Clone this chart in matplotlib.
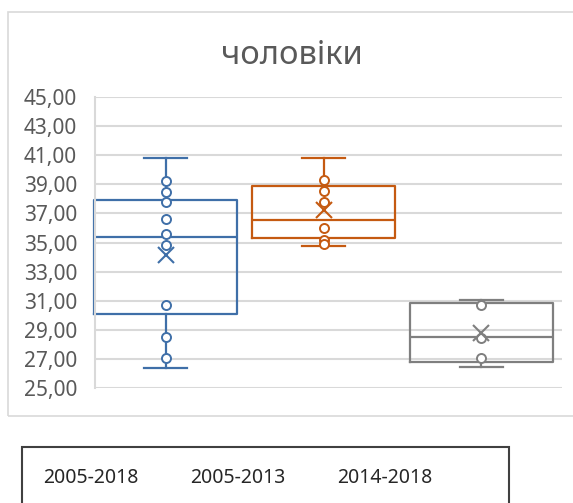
import matplotlib
matplotlib.use('Agg')
import matplotlib.pyplot as plt
from matplotlib.patches import Rectangle

plt.rcParams['font.family'] = ['Noto Sans', 'DejaVu Sans']

title = 'чоловіки'
series = ['2005-2018', '2005-2013', '2014-2018']
colors = ['#3F6FA8', '#C55A11', '#7F7F7F']

# summary values
whis_low = [26.4, 34.75, 26.43]
q1 = [30.12, 35.32, 26.81]
median = [35.37, 36.57, 28.5]
q3 = [37.94, 38.88, 30.84]
whis_high = [40.8, 40.8, 31.07]
means = [34.17, 37.2, 28.77]

# inner points shown as circles
points = [
    [39.2, 38.5, 37.8, 36.6, 35.6, 34.8, 30.7, 28.5, 27.05],
    [39.28, 38.54, 37.78, 36.03, 35.2, 34.9],
    [30.72, 28.43, 27.05],
]

yticks = list(range(25, 46, 2))

fig = plt.figure(figsize=(5.73, 5.03), dpi=100)
# outer chart border and legend box
fig.patches.append(Rectangle((8 / 573, 1 - 416 / 503), 1.0, (416 - 12) / 503,
                             transform=fig.transFigure, fill=False,
                             edgecolor='#d9d9d9', lw=1.2))
fig.patches.append(Rectangle((22 / 573, -0.05), (509 - 22) / 573, 0.05 + 1 - 447 / 503,
                             transform=fig.transFigure, fill=False,
                             edgecolor='#404040', lw=1.5))

ax = fig.add_axes([95 / 573, 1 - 388 / 503, (562 - 95) / 573, (388 - 97) / 503])

positions = [1, 2, 3]
for i in range(3):
    c = colors[i]
    st = dict(whislo=whis_low[i], q1=q1[i], med=median[i], q3=q3[i],
              whishi=whis_high[i], mean=means[i], fliers=[])
    bp = ax.bxp([st], positions=[positions[i]], widths=0.905, showmeans=False,
                showfliers=False, manage_ticks=False,
                boxprops=dict(color=c, lw=1.6),
                medianprops=dict(color=c, lw=1.6),
                whiskerprops=dict(color=c, lw=1.6),
                capprops=dict(color=c, lw=1.6), capwidths=0.27)
    for k in bp:
        for art in bp[k]:
            art.set_clip_on(False)
    ax.plot([positions[i]] * len(points[i]), points[i], 'o', ms=6.5,
            mfc='white', mec=c, mew=1.4, zorder=4, linestyle='none')
    ax.plot(positions[i], means[i], 'x', ms=12, mec=c, mew=1.5, zorder=5)

ax.set_xlim(0.553, 3.51)
ax.set_ylim(25, 45)
ax.set_yticks(yticks)
ax.set_yticklabels([f'{v:.2f}'.replace('.', ',') for v in yticks])
ax.set_xticks([])
ax.grid(axis='y', color='#d9d9d9', lw=1.5)
ax.set_axisbelow(True)
ax.tick_params(axis='y', length=0, labelsize=15, labelcolor='#595959', pad=13)
for s in ['top', 'right', 'bottom']:
    ax.spines[s].set_visible(False)
ax.spines['left'].set_color('#d9d9d9')
ax.spines['left'].set_linewidth(1.5)

fig.text(0.51, 1 - 55 / 503, title, ha='center', va='center', fontsize=23.5,
         color='#595959')

handles = [plt.Line2D([], [], color=c, lw=0) for c in colors]
leg = fig.legend(handles, series, loc='upper left',
                 bbox_to_anchor=(22 / 573, 1 - 447 / 503), ncol=3,
                 handlelength=0, handletextpad=0, columnspacing=2.65,
                 fontsize=14, frameon=False, borderpad=1.1,
                 borderaxespad=0)
for t in leg.get_texts():
    t.set_color('#262626')

fig.savefig('out.png', dpi=100)
